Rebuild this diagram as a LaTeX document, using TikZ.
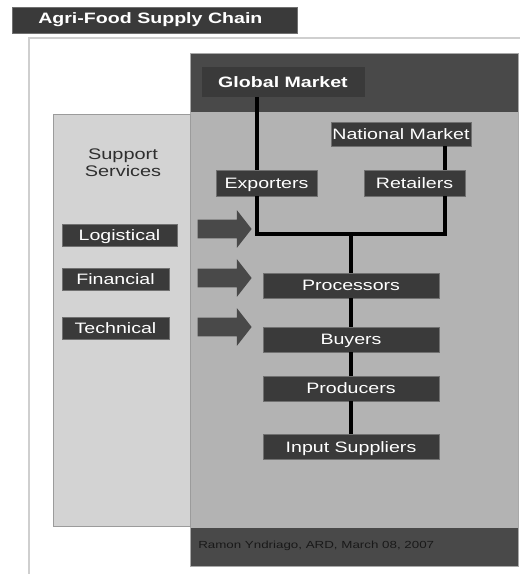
\documentclass[tikz,border=0pt]{standalone}
\usepackage{fontspec}
\setmainfont[FakeStretch=1.3]{Liberation Sans}
\usetikzlibrary{shapes.arrows}

\definecolor{boxgray}{HTML}{3A3A3A}
\definecolor{bandgray}{HTML}{494949}
\definecolor{panelgray}{HTML}{B3B3B3}
\definecolor{sidegray}{HTML}{D3D3D3}
\definecolor{rimgray}{HTML}{707070}
\definecolor{framegray}{HTML}{CFCFCF}
\definecolor{inkgray}{HTML}{2E2E2E}

\tikzset{
  boxsize/.style 2 args={minimum width=#1*0.75pt, minimum height=#2*0.75pt},
  chainbox/.style={fill=boxgray, draw=rimgray, line width=0.4pt, text=white,
    inner sep=0pt, text height=8.1pt, text depth=0pt,
    font=\fontsize{11.3}{13}\selectfont},
  servicearrow/.style={single arrow, fill=bandgray, inner xsep=0pt,
    inner ysep=9*0.75pt, minimum height=54*0.75pt, minimum width=36*0.75pt,
    single arrow head extend=9.5*0.75pt, single arrow tip angle=104},
  link/.style={line width=3pt},
}

\begin{document}
\begin{tikzpicture}[x=0.75pt, y=-0.75pt]
  \useasboundingbox (0,0) rectangle (520,574);

  \draw[framegray, fill=white, line width=1pt] (29,38) rectangle (540,600);
  \fill[boxgray] (12,7) rectangle (297,33);
  \draw[rimgray, line width=0.4pt] (12,7) rectangle (297,33);
  \node[anchor=west, text=white, inner sep=0pt, font=\fontsize{11.3}{13}\selectfont\bfseries]
    (title) at (38,20) {Agri-Food Supply Chain};

  \fill[bandgray] (190,53) rectangle (518,112);
  \fill[panelgray] (190,112) rectangle (518,528);
  \fill[bandgray] (190,528) rectangle (518,566);
  \draw[rimgray!60, line width=0.4pt] (190,53) rectangle (518,566);
  \draw[rimgray!70, fill=sidegray, line width=0.4pt] (53,114) rectangle (190,526);

  \node[text=inkgray, align=center, font=\fontsize{11.5}{12.75}\selectfont]
    (support) at (123,163) {Support\\Services};

  \node[chainbox, boxsize={162}{29}, draw=boxgray, font=\fontsize{11.3}{13}\selectfont\bfseries]
    (glob) at (283,82) {Global Market};
  \node[chainbox, boxsize={140}{24}] (natl) at (401,134) {National Market};
  \node[chainbox, boxsize={101}{26}] (expo) at (266.5,183) {Exporters};
  \node[chainbox, boxsize={101}{26}] (reta) at (414.5,183) {Retailers};
  \node[chainbox, boxsize={176}{25}] (proc) at (351,285.5) {Processors};
  \node[chainbox, boxsize={176}{25}] (buy) at (351,339.5) {Buyers};
  \node[chainbox, boxsize={176}{25}] (prod) at (351,388.5) {Producers};
  \node[chainbox, boxsize={176}{25}] (inp) at (351,447) {Input Suppliers};

  \node[chainbox, boxsize={115}{22}] (logi) at (119.5,235) {Logistical};
  \node[chainbox, boxsize={107}{22}] (fina) at (115.5,279) {Financial};
  \node[chainbox, boxsize={107}{22}] (tech) at (115.5,328) {Technical};

  \node[servicearrow] (arrl) at (221,229) {};
  \node[servicearrow] (arrf) at (221,278) {};
  \node[servicearrow] (arrt) at (221,327) {};

  \coordinate (jl) at (257,234);
  \coordinate (jr) at (445,234);
  \coordinate (jm) at (351,234);

  \draw[link] (glob.south -| jl) -- (expo.north -| jl);
  \draw[link] (natl.south -| jr) -- (reta.north -| jr);
  \draw[link] (expo.south -| jl) -- (jl) -- (jr) -- (reta.south -| jr);
  \draw[link] (jm) -- (proc.north);
  \draw[link] (proc.south) -- (buy.north);
  \draw[link] (buy.south) -- (prod.north);
  \draw[link] (prod.south) -- (inp.north);

  \node[anchor=west, inner sep=0pt, text=black!90, font=\fontsize{7.7}{9}\selectfont]
    (credit) at (198,546) {Ramon Yndriago, ARD, March 08, 2007};
\end{tikzpicture}
\end{document}
